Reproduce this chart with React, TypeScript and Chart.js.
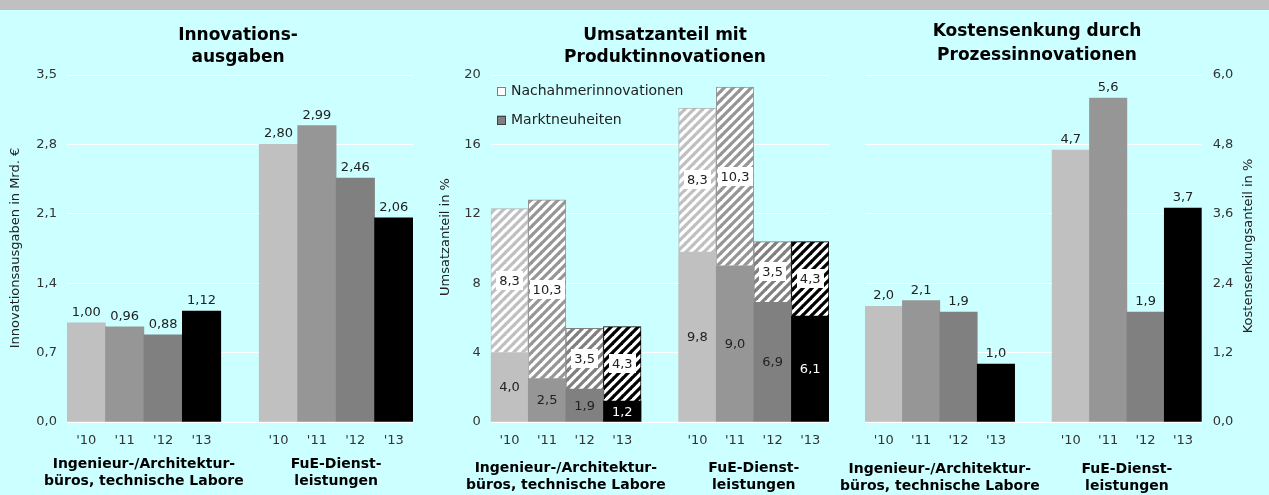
import React, { useEffect, useRef } from 'react';
import { Chart, registerables } from 'chart.js';

Chart.register(...registerables);

const FONT = '"DejaVu Sans", Verdana, sans-serif';
Chart.defaults.font.family = FONT;

// ---------- data ----------
const xLabels = ["'10", "'11", "'12", "'13", '', "'10", "'11", "'12", "'13"];
const groupLabels = [
  ['Ingenieur-/Architektur-', 'büros, technische Labore'],
  ['FuE-Dienst-', 'leistungen'],
];
const yearColors = ['#C0C0C0', '#969696', '#808080', '#000000'];

const innovationsausgaben = [1.0, 0.96, 0.88, 1.12, null, 2.8, 2.99, 2.46, 2.06];
const marktneuheiten = [4.0, 2.5, 1.9, 1.2, null, 9.8, 9.0, 6.9, 6.1];
const nachahmerinnovationen = [8.3, 10.3, 3.5, 4.3, null, 8.3, 10.3, 3.5, 4.3];
const kostensenkung = [2.0, 2.1, 1.9, 1.0, null, 4.7, 5.6, 1.9, 3.7];

const ticks1 = [0, 0.7, 1.4, 2.1, 2.8, 3.5];
const ticks2 = [0, 4, 8, 12, 16, 20];
const ticks3 = [0, 1.2, 2.4, 3.6, 4.8, 6.0];

const title1 = ['Innovations-', 'ausgaben'];
const title2 = ['Umsatzanteil mit', 'Produktinnovationen'];
const title3 = ['Kostensenkung durch', 'Prozessinnovationen'];
const yTitle1 = 'Innovationsausgaben in Mrd. €';
const yTitle2 = 'Umsatzanteil in %';
const yTitle3 = 'Kostensenkungsanteil in %';
const legendLabels = ['Nachahmerinnovationen', 'Marktneuheiten'];

// ---------- helpers ----------
const slotColors = [...yearColors, 'rgba(0,0,0,0)', ...yearColors];
const comma = (v: number, d: number) => v.toFixed(d).replace('.', ',');

function hatch(ctx: CanvasRenderingContext2D, color: string) {
  const s = 9;
  const c = document.createElement('canvas');
  c.width = s;
  c.height = s;
  const g = c.getContext('2d')!;
  g.fillStyle = '#ffffff';
  g.fillRect(0, 0, s, s);
  g.strokeStyle = color;
  g.lineWidth = 3.2;
  g.lineCap = 'square';
  for (const k of [-s, 0, s]) {
    g.beginPath();
    g.moveTo(k, s);
    g.lineTo(k + s, 0);
    g.stroke();
  }
  return ctx.createPattern(c, 'repeat') as CanvasPattern;
}

function txt(
  ctx: CanvasRenderingContext2D,
  s: string,
  x: number,
  y: number,
  font: string,
  color: string,
  align: CanvasTextAlign = 'center',
  baseline: CanvasTextBaseline = 'alphabetic'
) {
  ctx.save();
  ctx.font = font;
  ctx.fillStyle = color;
  ctx.textAlign = align;
  ctx.textBaseline = baseline;
  ctx.fillText(s, x, y);
  ctx.restore();
}

interface Decor {
  title: string[];
  titleX: number;
  titleY: number[];
  groupY: number[];
  yTitle: string;
  yTitleX: number;
  yTitleY: number;
  legend?: boolean;
}

function decorPlugin(d: Decor) {
  return {
    id: 'decor',
    afterDraw(chart: any) {
      const ctx: CanvasRenderingContext2D = chart.ctx;
      const x = chart.scales.x;
      d.title.forEach((t, i) => txt(ctx, t, d.titleX, d.titleY[i], `bold 17px ${FONT}`, '#000'));
      [[0, 3], [5, 8]].forEach(([a, b], gi) => {
        const cx = (x.getPixelForValue(a) + x.getPixelForValue(b)) / 2;
        groupLabels[gi].forEach((t, li) => txt(ctx, t, cx, d.groupY[li], `bold 14px ${FONT}`, '#000'));
      });
      ctx.save();
      ctx.translate(d.yTitleX, d.yTitleY);
      ctx.rotate(-Math.PI / 2);
      txt(ctx, d.yTitle, 0, 0, `13px ${FONT}`, '#222', 'center', 'middle');
      ctx.restore();
      if (d.legend) {
        const items = [
          { fill: '#ffffff', stroke: '#808080', y: 91 },
          { fill: '#808080', stroke: '#404040', y: 120 },
        ];
        items.forEach((it, i) => {
          ctx.save();
          ctx.fillStyle = it.fill;
          ctx.fillRect(72, it.y - 4.5, 9, 9);
          ctx.strokeStyle = it.stroke;
          ctx.lineWidth = 1;
          ctx.strokeRect(72.5, Math.round(it.y - 4.5) + 0.5, 8, 8);
          ctx.restore();
          txt(ctx, legendLabels[i], 86, it.y, `14px ${FONT}`, '#222', 'left', 'middle');
        });
      }
    },
  };
}

function valueLabelsAbove(decimals: number) {
  return {
    id: 'vlabels',
    afterDatasetsDraw(chart: any) {
      const ctx = chart.ctx;
      const meta = chart.getDatasetMeta(0);
      const data = chart.data.datasets[0].data;
      meta.data.forEach((el: any, i: number) => {
        const v = data[i];
        if (v == null) return;
        txt(ctx, comma(v, decimals), el.x, el.y - 7, `13px ${FONT}`, '#222');
      });
    },
  };
}

const stackLabels = {
  id: 'slabels',
  afterDatasetsDraw(chart: any) {
    const ctx: CanvasRenderingContext2D = chart.ctx;
    chart.data.datasets.forEach((ds: any, di: number) => {
      const meta = chart.getDatasetMeta(di);
      meta.data.forEach((el: any, i: number) => {
        const v = ds.data[i];
        if (v == null) return;
        const cy = (el.y + el.base) / 2;
        const s = comma(v, 1);
        ctx.save();
        ctx.font = `13px ${FONT}`;
        if (di === 1) {
          const w = ctx.measureText(s).width + 6;
          ctx.fillStyle = '#ffffff';
          ctx.fillRect(Math.round(el.x - w / 2), Math.round(cy - 9.5), Math.round(w), 19);
        }
        ctx.restore();
        const white = di === 0 && (i === 3 || i === 8);
        txt(ctx, s, el.x, cy + 1, `13px ${FONT}`, white ? '#ffffff' : '#222', 'center', 'middle');
      });
    });
  },
};

function baseOptions(o: {
  padL: number;
  padR: number;
  yWidth: number;
  yPos: 'left' | 'right';
  max: number;
  ticks: number[];
  dec: number;
  stacked?: boolean;
}) {
  return {
    responsive: false,
    animation: false,
    layout: { padding: { top: 75, bottom: 0, left: o.padL, right: o.padR } },
    plugins: { legend: { display: false }, title: { display: false }, tooltip: { enabled: false } },
    datasets: { bar: { categoryPercentage: 1, barPercentage: 1 } },
    scales: {
      x: {
        stacked: !!o.stacked,
        grid: { display: false, drawTicks: false },
        border: { display: false },
        ticks: { color: '#333', font: { size: 13 }, padding: 11, autoSkip: false, maxRotation: 0 },
        afterFit: (s: any) => {
          s.height = 73;
        },
      },
      y: {
        position: o.yPos,
        stacked: !!o.stacked,
        min: 0,
        max: o.max,
        grid: { color: '#ffffff', lineWidth: 1, drawTicks: false },
        border: { display: false },
        ticks: {
          color: '#333',
          font: { size: 13 },
          padding: o.yPos === 'left' ? 10 : 11,
          callback: (v: any) => comma(Number(v), o.dec),
        },
        afterBuildTicks: (s: any) => {
          s.ticks = o.ticks.map((v) => ({ value: v }));
        },
        afterFit: (s: any) => {
          s.width = o.yWidth;
        },
      },
    },
  };
}

function ChartPanel({ left, width, build }: { left: number; width: number; build: (ctx: CanvasRenderingContext2D) => any }) {
  const ref = useRef<HTMLCanvasElement>(null);
  useEffect(() => {
    const canvas = ref.current!;
    const ctx = canvas.getContext('2d')!;
    const chart = new Chart(ctx, build(ctx));
    return () => chart.destroy();
  }, []);
  return (
    <canvas
      ref={ref}
      width={width}
      height={495}
      style={{ position: 'absolute', left, top: 0, width, height: 495, display: 'block' }}
    />
  );
}

const build1 = () => ({
  type: 'bar',
  data: {
    labels: xLabels,
    datasets: [{ label: 'Innovationsausgaben', data: innovationsausgaben, backgroundColor: slotColors, borderWidth: 0 }],
  },
  options: baseOptions({ padL: 0, padR: 12, yWidth: 67, yPos: 'left', max: 3.5, ticks: ticks1, dec: 1 }),
  plugins: [
    valueLabelsAbove(2),
    decorPlugin({
      title: title1,
      titleX: 238,
      titleY: [40, 62],
      groupY: [468, 485],
      yTitle: yTitle1,
      yTitleX: 15.5,
      yTitleY: 248,
    }),
  ],
});

const build2 = (ctx: CanvasRenderingContext2D) => {
  const patterns = [...yearColors.map((c) => hatch(ctx, c))];
  const hatchFill = [...patterns, 'rgba(0,0,0,0)', ...patterns];
  const hatchBorder = ['#B4B4B4', '#969696', '#808080', '#000000'];
  return {
    type: 'bar',
    data: {
      labels: xLabels,
      datasets: [
        { label: legendLabels[1], data: marktneuheiten, backgroundColor: slotColors, borderWidth: 0 },
        {
          label: legendLabels[0],
          data: nachahmerinnovationen,
          backgroundColor: hatchFill,
          borderColor: [...hatchBorder, 'rgba(0,0,0,0)', ...hatchBorder],
          borderWidth: 1,
        },
      ],
    },
    options: baseOptions({ padL: 0, padR: 16, yWidth: 65.7, yPos: 'left', max: 20, ticks: ticks2, dec: 0, stacked: true }),
    plugins: [
      stackLabels,
      decorPlugin({
        title: title2,
        titleX: 240,
        titleY: [40, 62],
        groupY: [472, 489],
        yTitle: yTitle2,
        yTitleX: 20.8,
        yTitleY: 237,
        legend: true,
      }),
    ],
  };
};

// panel 3 canvas starts at x=820 (overlaps transparently with panel 2)
const P3_LEFT = 820;
const build3 = () => ({
  type: 'bar',
  data: {
    labels: xLabels,
    datasets: [{ label: 'Kostensenkung', data: kostensenkung, backgroundColor: slotColors, borderWidth: 0 }],
  },
  options: baseOptions({ padL: 865 - P3_LEFT, padR: 0, yWidth: 67.3, yPos: 'right', max: 6, ticks: ticks3, dec: 1 }),
  plugins: [
    valueLabelsAbove(1),
    decorPlugin({
      title: title3,
      titleX: 1037 - P3_LEFT,
      titleY: [36, 60],
      groupY: [473, 490],
      yTitle: yTitle3,
      yTitleX: 1249 - P3_LEFT,
      yTitleY: 246,
    }),
  ],
});

export default function App() {
  return (
    <div
      style={{
        position: 'absolute',
        left: 0,
        top: 0,
        width: 1269,
        height: 495,
        background: '#CCFFFF',
        overflow: 'hidden',
      }}
    >
      <div style={{ position: 'absolute', left: 0, top: 0, width: 1269, height: 10, background: '#C0C0C0' }} />
      <ChartPanel left={0} width={425} build={build1} />
      <ChartPanel left={425} width={420} build={build2} />
      <ChartPanel left={P3_LEFT} width={1269 - P3_LEFT} build={build3} />
    </div>
  );
}
